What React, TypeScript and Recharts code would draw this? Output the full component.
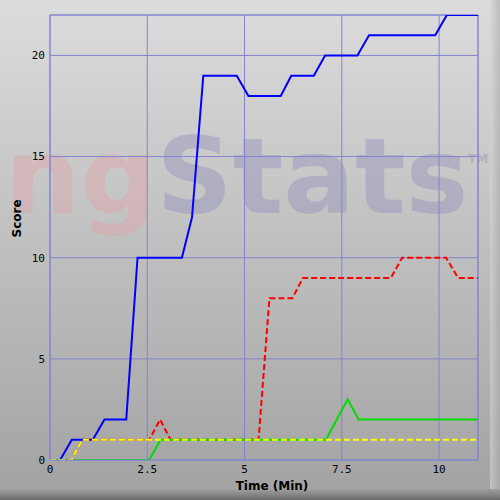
import { CartesianGrid, Line, LineChart, ReferenceLine, XAxis, YAxis } from 'recharts';

// series: time in minutes, score
const blueTime = [0, 0.26, 0.56, 1.1, 1.4, 1.96, 2.25, 3.39, 3.65, 3.94, 4.8, 5.1, 5.93, 6.2, 6.78, 7.07, 7.9, 8.2, 9.9, 10.2, 11];
const blueScore = [0, 0, 1, 1, 2, 2, 10, 10, 12, 19, 19, 18, 18, 19, 19, 20, 20, 21, 21, 22, 22];

const redTime = [0, 0.55, 0.83, 2.55, 2.83, 3.1, 5.36, 5.64, 6.23, 6.5, 8.76, 9.05, 10.18, 10.49, 11];
const redScore = [0, 0, 1, 1, 2, 1, 1, 8, 8, 9, 9, 10, 10, 9, 9];

const greenTime = [0, 2.55, 2.84, 7.09, 7.65, 7.93, 11];
const greenScore = [0, 0, 1, 1, 3, 2, 2];

const yellowTime = [0, 0.55, 0.83, 11];
const yellowScore = [0, 0, 1, 1];

const xTicks = [0, 2.5, 5, 7.5, 10];
const yTicks = [0, 5, 10, 15, 20];

const toPoints = (times: number[], scores: number[]) =>
  times.map((t, i) => ({ time: t, score: scores[i] }));

const GRID = '#8484d0';
const tickStyle = { fill: '#000', fontSize: 11, fontFamily: 'DejaVu Sans Mono' };

function Backdrop() {
  return (
    <svg width={500} height={500} style={{ position: 'absolute', left: 0, top: 0 }}>
      <defs>
        <linearGradient id="bg" x1="0" y1="0" x2="0" y2="1">
          <stop offset="0" stopColor="#dcdcdc" />
          <stop offset="1" stopColor="#a2a2a2" />
        </linearGradient>
        <linearGradient id="bottomEdge" x1="0" y1="0" x2="0" y2="1">
          <stop offset="0" stopColor="#a0a0a0" />
          <stop offset="1" stopColor="#6c6c6c" />
        </linearGradient>
        <linearGradient id="rightEdge" x1="0" y1="0" x2="1" y2="0">
          <stop offset="0" stopColor="#d6d6d6" />
          <stop offset="1" stopColor="#a8a8a8" />
        </linearGradient>
      </defs>
      <rect x={0} y={0} width={500} height={500} fill="url(#bg)" />
      <rect x={490} y={0} width={10} height={500} fill="url(#rightEdge)" opacity={0.6} />
      <rect x={0} y={489} width={500} height={11} fill="url(#bottomEdge)" />
      {/* faint ngStats watermark behind the plot */}
      <text x={5} y={213} fontFamily="DejaVu Sans" fontWeight="bold" fontSize={106}>
        <tspan fill="#e0a0a4" fillOpacity={0.4}>ng</tspan>
        <tspan fill="#8c8cb8" fillOpacity={0.4}>Stats</tspan>
      </text>
      <text x={468} y={163} fontFamily="DejaVu Sans" fontWeight="bold" fontSize={12} fill="#9898b8" opacity={0.5}>
        TM
      </text>
    </svg>
  );
}

export default function App() {
  return (
    <div style={{ position: 'relative', width: 500, height: 500 }}>
      <style>{'body{margin:0}'}</style>
      <Backdrop />
      <div style={{ position: 'absolute', left: 0, top: 0 }}>
        <LineChart width={500} height={500} margin={{ top: 15, right: 22, bottom: 0, left: 10 }}>
          <CartesianGrid stroke={GRID} strokeWidth={1} />
          <XAxis
            dataKey="time"
            type="number"
            domain={[0, 11]}
            ticks={xTicks}
            allowDataOverflow
            height={40}
            axisLine={{ stroke: GRID }}
            tickLine={false}
            tickSize={0}
            tickMargin={5}
            tick={tickStyle}
            label={{
              value: 'Time (Min)',
              position: 'insideBottom',
              offset: 10,
              dx: 8,
              fill: '#000',
              fontSize: 12,
              fontWeight: 'bold',
              fontFamily: 'DejaVu Sans',
            }}
          />
          <YAxis
            dataKey="score"
            type="number"
            domain={[0, 22]}
            ticks={yTicks}
            allowDataOverflow
            width={40}
            axisLine={{ stroke: GRID }}
            tickLine={false}
            tickSize={0}
            tickMargin={5}
            tick={tickStyle}
            label={{
              value: 'Score',
              angle: -90,
              position: 'insideLeft',
              offset: 7,
              fill: '#000',
              fontSize: 12,
              fontWeight: 'bold',
              fontFamily: 'DejaVu Sans',
            }}
          />
          <ReferenceLine x={11} stroke={GRID} />
          <ReferenceLine y={22} stroke={GRID} />
          <Line
            data={toPoints(blueTime, blueScore)}
            dataKey="score"
            type="linear"
            stroke="#0000ff"
            strokeWidth={2}
            dot={false}
            isAnimationActive={false}
          />
          <Line
            data={toPoints(redTime, redScore)}
            dataKey="score"
            type="linear"
            stroke="#ff0000"
            strokeWidth={2}
            strokeDasharray="6 3"
            dot={false}
            isAnimationActive={false}
          />
          <Line
            data={toPoints(greenTime, greenScore)}
            dataKey="score"
            type="linear"
            stroke="#00dd00"
            strokeWidth={2}
            dot={false}
            isAnimationActive={false}
          />
          <Line
            data={toPoints(yellowTime, yellowScore)}
            dataKey="score"
            type="linear"
            stroke="#ffff00"
            strokeWidth={2}
            strokeDasharray="6 3"
            dot={false}
            isAnimationActive={false}
          />
        </LineChart>
      </div>
    </div>
  );
}
